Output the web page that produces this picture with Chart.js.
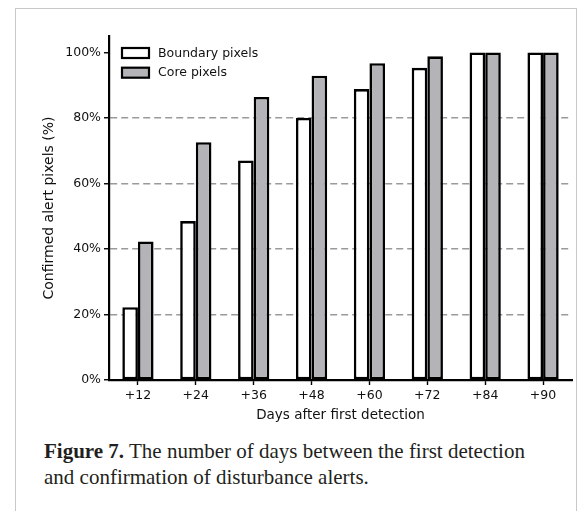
<!DOCTYPE html>
<html>
<head>
<meta charset="utf-8">
<script src="https://cdn.jsdelivr.net/npm/chart.js@4"></script>
<style>
  html, body { margin: 0; padding: 0; background: #fff; }
  #frame { position: absolute; left: 15px; top: 8px; width: 562px; height: 520px; border: 1px solid #c8c8c8; box-sizing: border-box; }
  #wrap { position: absolute; left: 0; top: 0; width: 584px; height: 430px; }
  #caption { position: absolute; left: 44px; top: 438px; width: 530px; font-family: "Liberation Serif", "DejaVu Serif", serif; font-size: 21px; line-height: 26px; color: #231f20; white-space: nowrap; }
</style>
</head>
<body>
<div id="frame"></div>
<div id="wrap"><canvas id="chart"></canvas></div>
<div id="caption"><b>Figure 7.</b> The number of days between the first detection<br>and confirmation of disturbance alerts.</div>
<script>
// Days after first detection
const days = ['+12', '+24', '+36', '+48', '+60', '+72', '+84', '+90'];
// Confirmed alert pixels (%)
const boundaryPixels = [22.2, 48.5, 67, 80, 88.8, 95.3, 100, 100];
const corePixels = [42.3, 72.6, 86.4, 92.9, 96.7, 98.8, 100, 100];
const yTicks = [0, 20, 40, 60, 80, 100];

const FONT = '"DejaVu Sans", sans-serif';

// legend drawn inside the plot, top left
const innerLegend = {
    id: 'innerLegend',
    afterDraw(chart) {
        const ctx = chart.ctx;
        const x0 = chart.chartArea.left + 13, y0 = 48;
        ctx.save();
        ctx.font = '12.5px ' + FONT;
        ctx.textBaseline = 'middle';
        chart.data.datasets.forEach((ds, i) => {
            const y = y0 + i * 19.7;
            ctx.fillStyle = ds.backgroundColor;
            ctx.fillRect(x0, y, 27, 10);
            ctx.lineWidth = 2.2;
            ctx.strokeStyle = '#000';
            ctx.strokeRect(x0, y, 27, 10);
            ctx.fillStyle = '#111';
            ctx.fillText(ds.label, x0 + 36, y + 5.5);
        });
        ctx.restore();
    }
};

new Chart(document.getElementById('chart'), {
    type: 'bar',
    data: {
        labels: days,
        datasets: [
            { label: 'Boundary pixels', data: boundaryPixels, backgroundColor: '#ffffff', borderColor: '#000', borderWidth: 2.6, borderSkipped: false },
            { label: 'Core pixels', data: corePixels, backgroundColor: '#b4b4b8', borderColor: '#000', borderWidth: 2.6, borderSkipped: false }
        ]
    },
    options: {
        responsive: true, maintainAspectRatio: false, animation: false,
        categoryPercentage: 0.54, barPercentage: 1.0,
        layout: { padding: { left: 0, top: 36, right: 12, bottom: 0 } },
        plugins: { legend: { display: false }, tooltip: { enabled: false } },
        scales: {
            x: {
                grid: { offset: false, drawOnChartArea: false, tickColor: '#000', tickLength: 5, tickWidth: 1.4 },
                border: { color: '#000', width: 2.2 },
                ticks: { color: '#111', font: { family: FONT, size: 12.5 }, padding: 3, maxRotation: 0 },
                title: { display: true, text: 'Days after first detection', color: '#111', font: { family: FONT, size: 13.5 }, padding: 6 },
                afterFit: s => { s.height = 50; }
            },
            y: {
                min: 0, max: 105,
                afterBuildTicks: s => { s.ticks = yTicks.map(v => ({ value: v })); },
                grid: {
                    color: c => (c.tick && c.tick.value > 0 && c.tick.value < 100) ? '#9a9a9a' : 'rgba(0,0,0,0)',
                    lineWidth: 1.5, tickColor: '#000', tickLength: 5, tickWidth: 1.4, tickBorderDash: []
                },
                border: { color: '#000', width: 2.2, dash: [7, 4] },
                ticks: { color: '#111', font: { family: FONT, size: 12.5 }, padding: 3, callback: v => v + '%' },
                title: { display: true, text: 'Confirmed alert pixels (%)', color: '#111', font: { family: FONT, size: 14 }, padding: 41 },
                afterFit: s => { s.width = 109; }
            }
        }
    },
    plugins: [innerLegend]
});
</script>
</body>
</html>
